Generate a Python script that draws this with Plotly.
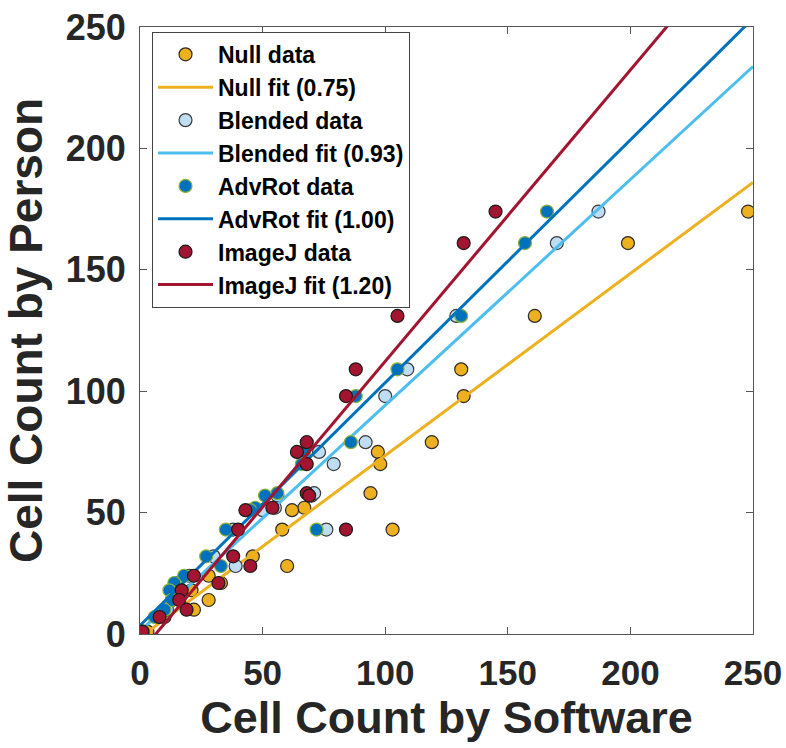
import plotly.graph_objects as go

# Person counts (y, shared by all methods)
person = [174, 161, 131, 109, 98, 79, 75, 70, 58, 57, 52, 51, 43, 43, 32, 28, 24, 21, 18, 14, 10, 7, 1]

# Software counts (x) per method
null_x    = [248, 199, 161, 131, 132, 119, 97, 98, 94, 70, 67, 62, 103, 58, 46, 60, 28, 33, 21, 28, 22, 10, 3]
blended_x = [187, 170, 129, 109, 100, 92, 73, 79, 71, 56, 55, 50, 76, 38, 30, 39, 20, 15, 14, 13, 11, 7, 1]
advrot_x  = [166, 157, 131, 105, 88, 86, 67, 66, 56, 51, 47, 45, 72, 35, 27, 33, 18, 14, 12, 13, 10, 6, 1]
imagej_x  = [145, 132, 105, 88, 84, 68, 64, 68, 68, 69, 54, 43, 84, 40, 38, 45, 22, 32, 17, 16, 19, 8, 1]

# Fit parameters (slope, intercept)
fit_slopes = [0.75, 0.93, 1.00, 1.20]
fit_intercepts = [-1.5, 1.2, 3.5, -7.7]
fit_x_range = [0, 250]

names = ["Null", "Blended", "AdvRot", "ImageJ"]
xs = [null_x, blended_x, advrot_x, imagej_x]
fills = ["#EDB120", "#BFDDF2", "#0072BD", "#A2142F"]
edges = ["#2a2a2a", "#3a3a3a", "#8DB33A", "#1a1a1a"]
line_colors = ["#EDB120", "#4DBEEE", "#0072BD", "#A2142F"]

FONT = "Liberation Sans, Arial, sans-serif"

fig = go.Figure()
for i, nm in enumerate(names):
    fig.add_trace(go.Scatter(
        x=xs[i], y=person, mode="markers", name=f"{nm} data",
        legendgroup=f"g{2*i}",
        marker=dict(size=13, color=fills[i], line=dict(color=edges[i], width=1.2)),
    ))
    fx = fit_x_range
    fy = [fit_slopes[i] * v + fit_intercepts[i] for v in fx]
    fig.add_trace(go.Scatter(
        x=fx, y=fy, mode="lines", name=f"{nm} fit ({fit_slopes[i]:.2f})",
        legendgroup=f"g{2*i+1}",
        line=dict(color=line_colors[i], width=3),
    ))

axis_common = dict(
    range=[0, 250], tickvals=[0, 50, 100, 150, 200, 250],
    ticks="inside", ticklen=7, tickwidth=1, tickcolor="#555555",
    showline=True, linecolor="#555555", linewidth=1, mirror="ticks",
    showgrid=False, zeroline=False, automargin=False,
)

fig.update_layout(
    width=786, height=748,
    margin=dict(l=140, r=33, t=27, b=114, autoexpand=False),
    paper_bgcolor="white", plot_bgcolor="white",
    xaxis=dict(**axis_common,
               tickfont=dict(family=FONT, size=35, color="#262626", weight="bold"),
               ticklabelstandoff=8,
               title=dict(text="Cell Count by Software", standoff=10,
                          font=dict(family=FONT, size=45, color="#262626", weight="bold"))),
    yaxis=dict(**axis_common,
               tickfont=dict(family=FONT, size=36, color="#262626", weight="bold"),
               ticklabelstandoff=6,
               title=dict(text="Cell Count by Person", standoff=10,
                          font=dict(family=FONT, size=46, color="#262626", weight="bold"))),
    legend=dict(
        x=0.0196, y=0.992, xanchor="left", yanchor="top",
        bgcolor="white", bordercolor="#444444", borderwidth=1,
        font=dict(family=FONT, size=23, color="black", weight="bold"),
        tracegroupgap=0, itemwidth=55,
    ),
    showlegend=True,
)

fig.write_html("out.html")
